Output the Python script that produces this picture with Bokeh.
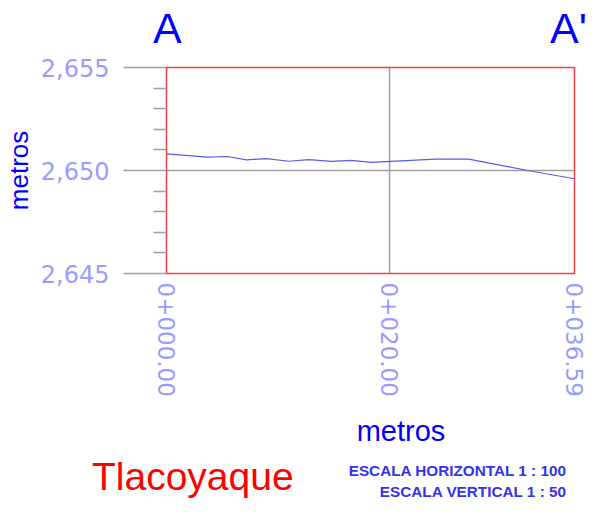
from bokeh.plotting import figure
from bokeh.models import Range1d, FixedTicker, NumeralTickFormatter, Div
from bokeh.layouts import column
from bokeh.embed import file_html
from bokeh.resources import INLINE

# ---- data ----
distance = [0.0, 3.69, 5.44, 7.19, 8.95, 10.97, 12.72, 14.83, 16.58, 18.34, 20.09, 24.13, 27.11, 32.38, 36.59]
elevation = [2650.81, 2650.65, 2650.68, 2650.52, 2650.58, 2650.45, 2650.53, 2650.44, 2650.49, 2650.39,
             2650.44, 2650.55, 2650.55, 2650.00, 2649.60]
x_ticks = [0.0, 20.0, 36.59]
x_tick_labels = ["0+000.00", "0+020.00", "0+036.59"]
y_ticks = [2645, 2650, 2655]
y_minor_ticks = [2646, 2647, 2648, 2649, 2651, 2652, 2653, 2654]
title_left = "A"
title_right = "A'"
place = "Tlacoyaque"
scale_h = "ESCALA HORIZONTAL 1 : 100"
scale_v = "ESCALA VERTICAL 1 : 50"
axis_name = "metros"

BLUE = "#0000ff"
LIGHT = "#9b9bff"
GRAY = "#a0a0a0"
W = 587
FONT = "'Liberation Sans', Arial, sans-serif"


def span(text, size, color, top, left=None, right=None, center=None, weight="normal"):
    pos = f"top:{top}px;"
    if left is not None:
        pos += f"left:{left}px;"
    elif right is not None:
        pos += f"right:{right}px;"
    else:
        pos += f"left:{center}px;transform:translateX(-50%);"
    return (f'<span style="position:absolute;{pos}font-family:{FONT};font-size:{size}px;'
            f'font-weight:{weight};line-height:1;white-space:nowrap;color:{color};">{text}</span>')


def panel(h, spans):
    html = (f'<div style="position:relative;width:{W}px;height:{h}px;overflow:visible;">'
            + "".join(spans) + "</div>")
    return Div(text=html, width=W, height=h, margin=0)


# ---- top panel: section letters ----
top = panel(50, [
    span(title_left, 43, BLUE, top=7, left=153),
    span(title_right, 43, BLUE, top=7, left=550),
])

# ---- main profile chart ----
p = figure(width=W, height=360, output_backend="svg", toolbar_location=None,
           x_range=Range1d(0, 36.59), y_range=Range1d(2645, 2655),
           min_border_left=166, min_border_right=13, min_border_top=17, min_border_bottom=137,
           margin=0)
p.background_fill_color = "white"
p.border_fill_color = "white"
p.outline_line_color = "#f04040"
p.outline_line_width = 1.5

p.line(distance, elevation, line_color="#5a5aee", line_width=1.2)

ya = p.yaxis[0]
ya.ticker = FixedTicker(ticks=y_ticks, minor_ticks=y_minor_ticks)
ya.formatter = NumeralTickFormatter(format="0,0")
ya.axis_line_color = None
ya.major_tick_line_color = GRAY
ya.major_tick_line_width = 1.5
ya.major_tick_out = 43
ya.major_tick_in = 0
ya.minor_tick_line_color = GRAY
ya.minor_tick_line_width = 1.5
ya.minor_tick_out = 13
ya.minor_tick_in = 0
ya.major_label_standoff = 14
ya.major_label_text_font = "DejaVu Sans"
ya.major_label_text_font_size = "24px"
ya.major_label_text_color = LIGHT
ya.axis_label = axis_name
ya.axis_label_text_font = "Liberation Sans"
ya.axis_label_text_font_size = "26px"
ya.axis_label_text_font_style = "normal"
ya.axis_label_text_color = BLUE
ya.axis_label_standoff = 4

xa = p.xaxis[0]
xa.ticker = FixedTicker(ticks=x_ticks)
xa.major_label_overrides = {float(t): s for t, s in zip(x_ticks, x_tick_labels)}
xa.major_label_orientation = "vertical"
xa.axis_line_color = None
xa.major_tick_line_color = None
xa.minor_tick_line_color = None
xa.major_tick_out = 0
xa.major_tick_in = 0
xa.major_label_standoff = 9
xa.major_label_text_font = "DejaVu Sans"
xa.major_label_text_font_size = "23px"
xa.major_label_text_color = LIGHT

p.xgrid.ticker = FixedTicker(ticks=[20])
p.ygrid.ticker = FixedTicker(ticks=[2650])
p.xgrid.grid_line_color = GRAY
p.ygrid.grid_line_color = GRAY
p.xgrid.grid_line_width = 1.5
p.ygrid.grid_line_width = 1.5

# ---- bottom panel: axis name, place and scales ----
bot = panel(88, [
    span(axis_name, 29, BLUE, top=7, center=401),
    span(place, 39, "#ff0000", top=47, left=92),
    span(scale_h, 15.3, "#3333ee", top=53, right=21, weight="bold"),
    span(scale_v, 15.3, "#3333ee", top=74, right=21, weight="bold"),
])

layout = column(top, p, bot, spacing=0)
open("out.html", "w").write(file_html(layout, INLINE))
